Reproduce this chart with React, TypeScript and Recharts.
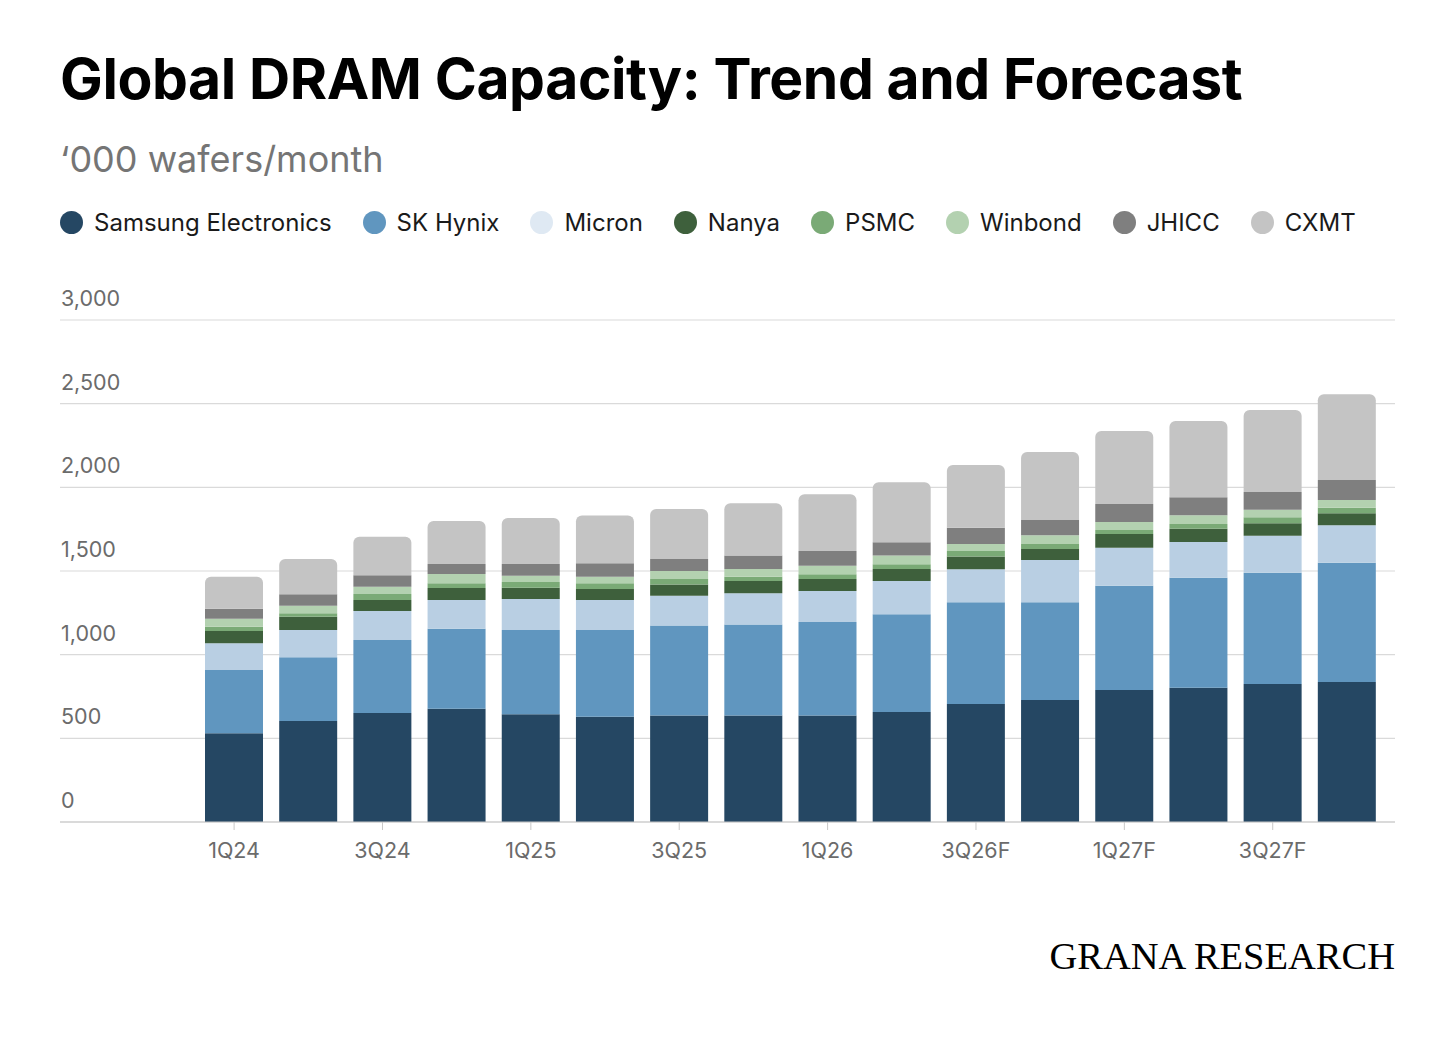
import { BarChart, Bar, XAxis, YAxis, CartesianGrid } from "recharts";

const quarters = ["1Q24", "2Q24", "3Q24", "4Q24", "1Q25", "2Q25", "3Q25", "4Q25", "1Q26", "2Q26", "3Q26F", "4Q26F", "1Q27F", "2Q27F", "3Q27F", "4Q27F"];

const samsung = [530, 604, 651, 677, 644, 629, 637, 637, 637, 657, 705, 729, 789, 803, 825, 837];
const skHynix = [378, 380, 437, 478, 503, 518, 538, 544, 558, 584, 608, 584, 623, 657, 665, 713];
const micron = [160, 163, 173, 172, 186, 180, 177, 186, 185, 199, 197, 253, 227, 213, 221, 223];
const nanya = [73, 80, 66, 71, 67, 65, 68, 73, 72, 72, 76, 66, 82, 80, 74, 72];
const psmc = [26, 20, 36, 29, 34, 35, 32, 26, 28, 28, 34, 29, 24, 28, 36, 33];
const winbond = [48, 46, 43, 55, 38, 39, 48, 46, 52, 52, 41, 52, 48, 52, 45, 46];
const jhicc = [60, 68, 68, 60, 70, 80, 72, 80, 88, 80, 98, 92, 107, 107, 106, 120];
const cxmt = [191, 211, 231, 257, 275, 285, 299, 313, 338, 358, 374, 406, 437, 456, 490, 512];

const yTicks = [0, 500, 1000, 1500, 2000, 2500, 3000];

const series = [
  { key: "samsung", name: "Samsung Electronics", values: samsung, color: "#254763", legendColor: "#254763" },
  { key: "skHynix", name: "SK Hynix", values: skHynix, color: "#6096bf", legendColor: "#6096bf" },
  { key: "micron", name: "Micron", values: micron, color: "#b9cfe3", legendColor: "#dfe9f3" },
  { key: "nanya", name: "Nanya", values: nanya, color: "#3e603c", legendColor: "#3e603c" },
  { key: "psmc", name: "PSMC", values: psmc, color: "#7aaa76", legendColor: "#7aaa76" },
  { key: "winbond", name: "Winbond", values: winbond, color: "#b3d1b0", legendColor: "#b3d1b0" },
  { key: "jhicc", name: "JHICC", values: jhicc, color: "#7f7f7f", legendColor: "#7f7f7f" },
  { key: "cxmt", name: "CXMT", values: cxmt, color: "#c4c4c4", legendColor: "#c4c4c4" },
];

const data = quarters.map((q, i) => {
  const row: Record<string, string | number> = { q };
  series.forEach((s) => (row[s.key] = s.values[i]));
  return row;
});

const font = "Inter, 'Noto Sans', sans-serif";

// y labels sit above their gridline, left-aligned with the plot edge
const YTick = (props: any) => (
  <text x={61} y={props.y - 14} fill="#6b6b6b" fontSize={21.5} fontFamily={font} textAnchor="start">
    {Number(props.payload.value).toLocaleString("en-US")}
  </text>
);

export default function App() {
  return (
    <div style={{ position: "absolute", left: 0, top: 0, width: 1456, height: 1043, background: "#fff", fontFamily: font }}>
      <div style={{ position: "absolute", left: 60, top: 44, fontSize: 57, fontWeight: 700, color: "#000", lineHeight: "70px", letterSpacing: -0.4 }}>
        Global DRAM Capacity: Trend and Forecast
      </div>
      <div style={{ position: "absolute", left: 60, top: 136, fontSize: 36, color: "#757575", lineHeight: "46px" }}>
        ‘000 wafers/month
      </div>
      <div style={{ position: "absolute", left: 60, top: 207, display: "flex", gap: 31, alignItems: "center", height: 30 }}>
        {series.map((s) => (
          <div key={s.key} style={{ display: "flex", alignItems: "center", gap: 11 }}>
            <span style={{ width: 23, height: 23, borderRadius: "50%", background: s.legendColor, display: "inline-block" }} />
            <span style={{ fontSize: 24, color: "#1a1a1a" }}>{s.name}</span>
          </div>
        ))}
      </div>
      <div style={{ position: "absolute", left: 0, top: 280 }}>
        <BarChart width={1456} height={620} data={data} margin={{ top: 40, right: 61, bottom: 38, left: 0 }} barSize={58}>
          <CartesianGrid vertical={false} stroke="#dadada" strokeWidth={1.2} />
          <YAxis domain={[0, 3000]} ticks={yTicks} width={60} axisLine={false} tickLine={false} tick={YTick} />
          <XAxis
            dataKey="q"
            interval={1}
            height={40}
            padding={{ left: 137, right: 11 }}
            axisLine={{ stroke: "#c8c8c8", strokeWidth: 1.2 }}
            tickLine={{ stroke: "#c8c8c8" }}
            tickSize={8}
            tickMargin={13}
            tick={{ fontSize: 21.5, fill: "#6b6b6b", fontFamily: font }}
          />
          {series.map((s, i) => (
            <Bar
              key={s.key}
              dataKey={s.key}
              name={s.name}
              stackId="a"
              fill={s.color}
              radius={i === series.length - 1 ? [6, 6, 0, 0] : 0}
              isAnimationActive={false}
            />
          ))}
        </BarChart>
      </div>
      <div style={{ position: "absolute", right: 61, top: 934, fontSize: 38.5, fontFamily: "'Liberation Serif', 'Times New Roman', serif", color: "#000", lineHeight: "44px" }}>
        GRANA RESEARCH
      </div>
    </div>
  );
}
